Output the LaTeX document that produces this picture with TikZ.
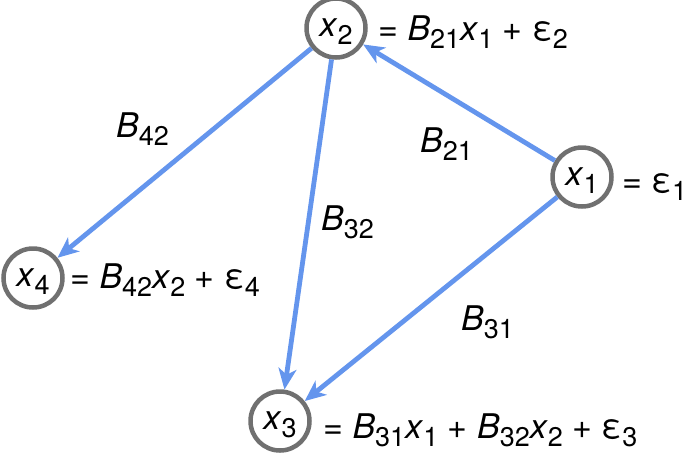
\documentclass[tikz,border=0pt]{standalone}
\usepackage{fontspec}
\setmainfont{TeX Gyre Heros}
\usetikzlibrary{arrows.meta}
\definecolor{edgeblue}{RGB}{100,149,237}
\definecolor{ringgray}{RGB}{112,112,112}
\newcommand\sbs[1]{\raisebox{-8pt}{\fontsize{27}{30}\selectfont #1}}
\newcommand\vx{\textit{x}}
\newcommand\vB{\textit{B}}
\newcommand\veps{ε}
\begin{document}
\begin{tikzpicture}[x=1pt,y=-1pt,
  var/.style={circle,draw=ringgray,line width=4.5pt,minimum size=59pt,inner sep=0pt,
    text height=24pt,text depth=8pt,font=\fontsize{34}{40}\selectfont},
  eqn/.style={anchor=base west,inner sep=0pt,font=\fontsize{34}{40}\selectfont},
  lbl/.style={anchor=base west,inner sep=0pt,font=\fontsize{34}{40}\selectfont},
  edge/.style={draw=edgeblue,line width=4.8pt,-{Stealth[length=21pt,width=18pt,inset=6pt]}}]
\useasboundingbox (0,0) rectangle (685,459);
\node[var] (x2) at (336,28) {\vx\sbs{2}};
\node[var] (x1) at (582,177) {\vx\sbs{1}};
\node[var] (x4) at (33,278) {\vx\sbs{4}};
\node[var] (x3) at (280,421) {\vx\sbs{3}};
\node[eqn] (e2) at (378,40) {= \vB\sbs{21}\vx\sbs{1} + \veps\sbs{2}};
\node[eqn] (e1) at (622,192) {= \veps\sbs{1}};
\node[eqn] (e4) at (70,288) {= \vB\sbs{42}\vx\sbs{2} + \veps\sbs{4}};
\node[eqn] (e3) at (323,438) {= \vB\sbs{31}\vx\sbs{1} + \vB\sbs{32}\vx\sbs{2} + \veps\sbs{3}};
\draw[edge] (x2) -- (x4);
\draw[edge] (x2) -- (x3);
\draw[edge] (x1) -- (x2);
\draw[edge] (x1) -- (x3);
\node[lbl] (l42) at (116,137) {\vB\sbs{42}};
\node[lbl] (l21) at (420,152) {\vB\sbs{21}};
\node[lbl] (l32) at (321,230) {\vB\sbs{32}};
\node[lbl] (l31) at (461,330) {\vB\sbs{31}};
\end{tikzpicture}
\end{document}
